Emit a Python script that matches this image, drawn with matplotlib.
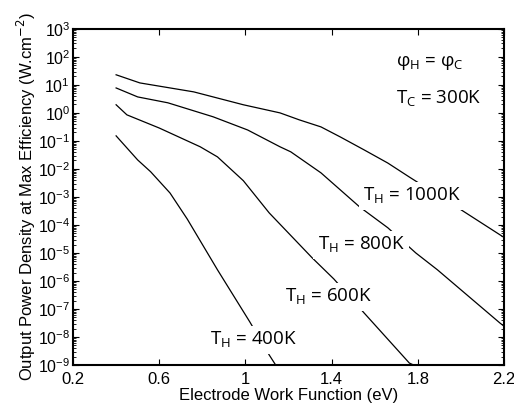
import numpy as np
import matplotlib.pyplot as plt
from matplotlib.ticker import LogLocator, NullFormatter

# work function (eV) and log10 power density
x_1000 = [0.40, 0.51, 0.76, 0.99, 1.16, 1.25, 1.35, 1.44, 1.55, 1.66, 1.76, 2.00, 2.20]
y_1000 = [1.36, 1.07, 0.75, 0.29, 0.00, -0.25, -0.50, -0.86, -1.32, -1.79, -2.29, -3.46, -4.45]

x_800 = [0.40, 0.50, 0.64, 0.85, 1.01, 1.16, 1.21, 1.35, 1.53, 1.66, 1.79, 1.89, 2.18, 2.20]
y_800 = [0.89, 0.57, 0.36, -0.14, -0.61, -1.21, -1.39, -2.14, -3.36, -4.10, -5.00, -5.60, -7.50, -7.62]

x_600 = [0.40, 0.45, 0.60, 0.79, 0.87, 0.99, 1.11, 1.31, 1.41, 1.55, 1.76, 1.78]
y_600 = [0.29, -0.07, -0.54, -1.21, -1.57, -2.42, -3.57, -5.18, -5.93, -7.14, -8.93, -9.00]

x_400 = [0.40, 0.50, 0.56, 0.65, 0.73, 0.87, 1.02, 1.11, 1.14]
y_400 = [-0.82, -1.68, -2.10, -2.86, -3.79, -5.60, -7.46, -8.64, -9.00]

curves = [(x_1000, y_1000), (x_800, y_800), (x_600, y_600), (x_400, y_400)]
labels = ['1000K', '800K', '600K', '400K']
label_x = [1.773, 1.536, 1.383, 1.035]
label_logy = [-2.96, -4.71, -6.57, -8.11]

plt.rcParams['font.family'] = ['Liberation Sans', 'DejaVu Sans']
fig = plt.figure(figsize=(5.14, 4.12), dpi=100)
ax = fig.add_axes([0.142, 0.114, 0.839, 0.816])

for xs, ys in curves:
    ax.plot(xs, 10 ** np.array(ys), '-k', lw=0.9)

ax.set_yscale('log')
ax.set_xlim(0.2, 2.2)
ax.set_ylim(1e-9, 1e3)
ax.set_xticks([0.2, 0.6, 1.0, 1.4, 1.8, 2.2])
ax.set_xticklabels(['0.2', '0.6', '1', '1.4', '1.8', '2.2'])
ax.yaxis.set_major_locator(LogLocator(base=10, numticks=20))
ax.yaxis.set_minor_locator(LogLocator(base=10, subs=np.arange(2, 10), numticks=20))
ax.yaxis.set_minor_formatter(NullFormatter())
ax.tick_params(which='both', direction='in', top=True, right=True)
ax.tick_params(axis='x', pad=5, labelsize=12)
ax.tick_params(axis='y', pad=2, labelsize=11.5)
ax.tick_params(which='major', length=4)
ax.tick_params(which='minor', length=2)
for s in ax.spines.values():
    s.set_linewidth(1.5)

ax.set_xlabel('Electrode Work Function (eV)', fontsize=12, labelpad=1)
ax.set_ylabel('Output Power Density at Max Efficiency (W.cm$^{-2}$)', fontsize=12, labelpad=0)

lab_font = ['Open Sans', 'DejaVu Sans']
for name, lx, ly in zip(labels, label_x, label_logy):
    ax.text(lx, 10 ** ly, r'T$_\mathregular{H}$ = ' + name, family=lab_font, fontsize=13.5,
            ha='center', va='center',
            bbox=dict(facecolor='white', edgecolor='none', pad=3))

ax.text(1.70, 10 ** 1.79, r'φ$_\mathregular{H}$ = φ$_\mathregular{C}$', family=lab_font,
        fontsize=13.5, ha='left', va='center')
ax.text(1.70, 10 ** 0.5, r'T$_\mathregular{C}$ = 300K', family=lab_font, fontsize=13.5,
        ha='left', va='center')

fig.savefig('out.png', dpi=100)
